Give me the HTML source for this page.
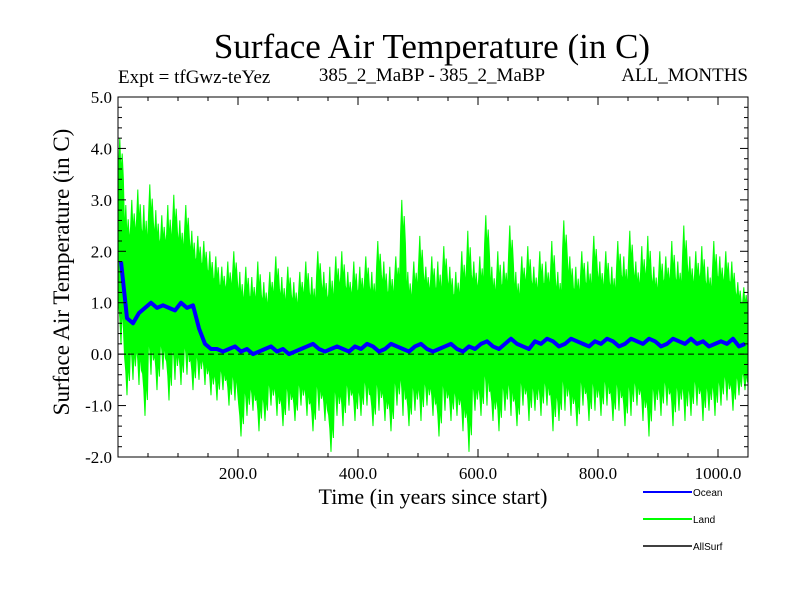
<!DOCTYPE html>
<html><head><meta charset="utf-8"><style>
body{margin:0;background:#fff;}
svg text{font-family:"Liberation Serif",serif;}
</style></head><body>
<svg id="chart" width="800" height="600" xmlns="http://www.w3.org/2000/svg">
<text x="432" y="58" font-size="35" text-anchor="middle">Surface Air Temperature (in C)</text>
<text x="118" y="83" font-size="19">Expt = tfGwz-teYez</text>
<text x="432" y="81" font-size="19" text-anchor="middle">385_2_MaBP - 385_2_MaBP</text>
<text x="748" y="81" font-size="19" text-anchor="end">ALL_MONTHS</text>
<text transform="translate(69,272) rotate(-90)" font-size="23" text-anchor="middle">Surface Air Temperature (in C)</text>
<text x="433" y="504" font-size="22" text-anchor="middle">Time (in years since start)</text>
<g id="plot"></g>
<g id="axes"></g>
<g>
<line x1="643" y1="492" x2="692" y2="492" stroke="#0000ff" stroke-width="2"/>
<text x="693" y="496" font-size="10" style="font-family:'Liberation Sans',sans-serif">Ocean</text>
<line x1="643" y1="519" x2="692" y2="519" stroke="#00ff00" stroke-width="2"/>
<text x="693" y="523" font-size="10" style="font-family:'Liberation Sans',sans-serif">Land</text>
<line x1="643" y1="546" x2="692" y2="546" stroke="#000" stroke-width="1.5"/>
<text x="693" y="550" font-size="10" style="font-family:'Liberation Sans',sans-serif">AllSurf</text>
</g>
</svg>
<script>
const binYears = 10;
const landHi = [4.2,2.9,3.0,3.2,2.9,3.3,2.8,2.7,2.9,3.1,2.6,2.9,2.4,
2.3,2.2,2.0,1.9,1.7,1.8,2.0,
1.6,1.7,1.5,1.8,1.4,1.6,1.9,1.5,1.7,1.4,1.6,1.8,1.5,2.0,1.6,1.7,1.9,2.0,1.6,1.8,
1.7,1.9,1.6,2.2,1.8,1.7,1.9,3.0,1.6,1.8,2.3,1.7,1.9,1.8,2.1,1.7,1.6,2.0,2.4,1.8,
1.9,2.7,1.7,2.0,1.8,2.5,1.6,1.9,2.1,1.7,2.0,1.8,2.2,1.6,2.6,1.9,1.7,2.0,1.8,2.3,
1.8,2.0,1.7,2.2,1.9,2.4,1.8,2.1,2.3,1.7,2.0,1.9,2.2,1.8,2.5,1.9,2.0,2.1,1.7,2.2,1.9,2.0,1.8,1.4,1.3];
const landLo = [0.2,-0.8,-0.5,-0.6,-1.2,-0.4,-0.7,-0.3,-0.9,-0.5,-0.6,-0.4,-0.7,
-0.5,-0.6,-0.8,-0.9,-0.7,-1.0,-0.9,
-1.6,-1.2,-1.1,-1.5,-1.3,-1.0,-1.2,-1.4,-1.1,-1.3,-1.0,-1.2,-1.5,-1.1,-1.3,-1.9,-1.2,-1.4,-1.0,-1.3,
-1.2,-1.0,-1.4,-1.1,-1.3,-1.5,-1.0,-1.2,-1.4,-1.1,-1.3,-1.0,-1.2,-1.6,-1.1,-1.3,-1.2,-1.5,-1.9,-1.1,
-1.2,-1.0,-1.3,-1.5,-1.1,-1.2,-1.4,-1.0,-1.3,-1.1,-1.2,-1.0,-1.5,-1.3,-1.1,-1.2,-1.4,-1.0,-1.3,-1.1,
-1.2,-1.0,-1.3,-1.1,-1.4,-1.2,-1.0,-1.3,-1.6,-1.1,-1.2,-1.0,-1.4,-1.1,-1.3,-1.2,-1.0,-1.3,-1.1,-1.2,-1.0,-0.9,-1.1,-0.8,-0.7];
const ocean = [1.8,0.7,0.6,0.8,0.9,1.0,0.9,0.95,0.9,0.85,1.0,0.9,0.95,
0.5,0.2,0.1,0.1,0.05,0.1,0.15,
0.05,0.1,0.0,0.05,0.1,0.15,0.05,0.1,0.0,0.05,0.1,0.15,0.2,0.1,0.05,0.1,0.15,0.1,0.05,0.15,
0.1,0.2,0.15,0.05,0.1,0.2,0.15,0.1,0.05,0.15,0.2,0.1,0.05,0.1,0.15,0.2,0.1,0.05,0.15,0.1,
0.2,0.25,0.15,0.1,0.2,0.3,0.2,0.15,0.1,0.25,0.2,0.3,0.25,0.15,0.2,0.3,0.25,0.2,0.15,0.25,
0.2,0.3,0.25,0.15,0.2,0.3,0.25,0.2,0.3,0.25,0.15,0.2,0.3,0.25,0.2,0.3,0.2,0.25,0.15,0.2,0.25,0.2,0.3,0.15,0.2];
const xTicks = [200,400,600,800,1000];
const xTickLabels = ["200.0","400.0","600.0","800.0","1000.0"];
const yTicks = [-2,-1,0,1,2,3,4,5];
const yTickLabels = ["-2.0","-1.0","0.0","1.0","2.0","3.0","4.0","5.0"];

const L=118,R=748,T=97,B=457,xMax=1050,yMin=-2,yMax=5;
const sx=v=>L+(v/xMax)*(R-L);
const sy=v=>B-(v-yMin)/(yMax-yMin)*(B-T);
const NS="http://www.w3.org/2000/svg";
const plot=document.getElementById('plot'), axes=document.getElementById('axes');
function mk(tag,attrs,parent){const e=document.createElementNS(NS,tag);for(const k in attrs)e.setAttribute(k,attrs[k]);parent.appendChild(e);return e;}

const upperEdge=[], lowerEdge=[];
landHi.forEach((h,i)=>{
  const x0=i*binYears, lo=landLo[i], mid=(h+lo)/2, half=(h-lo)/2;
  upperEdge.push(sx(x0+1)+','+sy(mid+half*0.7));
  upperEdge.push(sx(x0+3)+','+sy(h));
  upperEdge.push(sx(x0+5)+','+sy(mid+half*0.65));
  upperEdge.push(sx(x0+7)+','+sy(mid+half*0.85));
  upperEdge.push(sx(x0+9)+','+sy(mid+half*0.6));
  lowerEdge.push(sx(x0+1)+','+sy(mid-half*0.6));
  lowerEdge.push(sx(x0+3)+','+sy(mid-half*0.75));
  lowerEdge.push(sx(x0+5)+','+sy(lo));
  lowerEdge.push(sx(x0+7)+','+sy(mid-half*0.65));
  lowerEdge.push(sx(x0+9)+','+sy(mid-half*0.85));
});
const land=mk('polygon',{points:upperEdge.concat(lowerEdge.reverse()).join(' '),fill:'#00ff00',stroke:'#00ff00','stroke-width':1},plot);



const zero=mk('line',{x1:L,x2:R,y1:sy(0),y2:sy(0),stroke:'#000','stroke-dasharray':'6,4','stroke-width':1},plot);



const op=ocean.map((v,i)=>sx(i*binYears+5)+','+sy(v)).join(' ');
const oc=mk('polyline',{points:op,fill:'none',stroke:'#0000ff','stroke-width':4,'stroke-linejoin':'round'},plot);



const frame=mk('rect',{x:L,y:T,width:R-L,height:B-T,fill:'none',stroke:'#000','stroke-width':1},axes);



for(let v=50;v<xMax;v+=50){
  const major=v%200===0;
  mk('line',{x1:sx(v),x2:sx(v),y1:B,y2:B-(major?8:4),stroke:'#000'},axes);
  mk('line',{x1:sx(v),x2:sx(v),y1:T,y2:T+(major?8:4),stroke:'#000'},axes);
}
for(let k=0;k<=35;k++){
  const v=yMin+k*0.2; const major=k%5===0;
  mk('line',{x1:L,x2:L+(major?8:4),y1:sy(v),y2:sy(v),stroke:'#000'},axes);
  mk('line',{x1:R,x2:R-(major?8:4),y1:sy(v),y2:sy(v),stroke:'#000'},axes);
}
xTicks.forEach((v,i)=>{
  const t=mk('text',{x:sx(v),y:B+22,'font-size':17,'text-anchor':'middle'},axes);
  t.textContent=xTickLabels[i];
  
  
});
yTicks.forEach((v,i)=>{
  const t=mk('text',{x:L-6,y:sy(v)+6,'font-size':17,'text-anchor':'end'},axes);
  t.textContent=yTickLabels[i];
  
  
});
</script>
</body></html>
